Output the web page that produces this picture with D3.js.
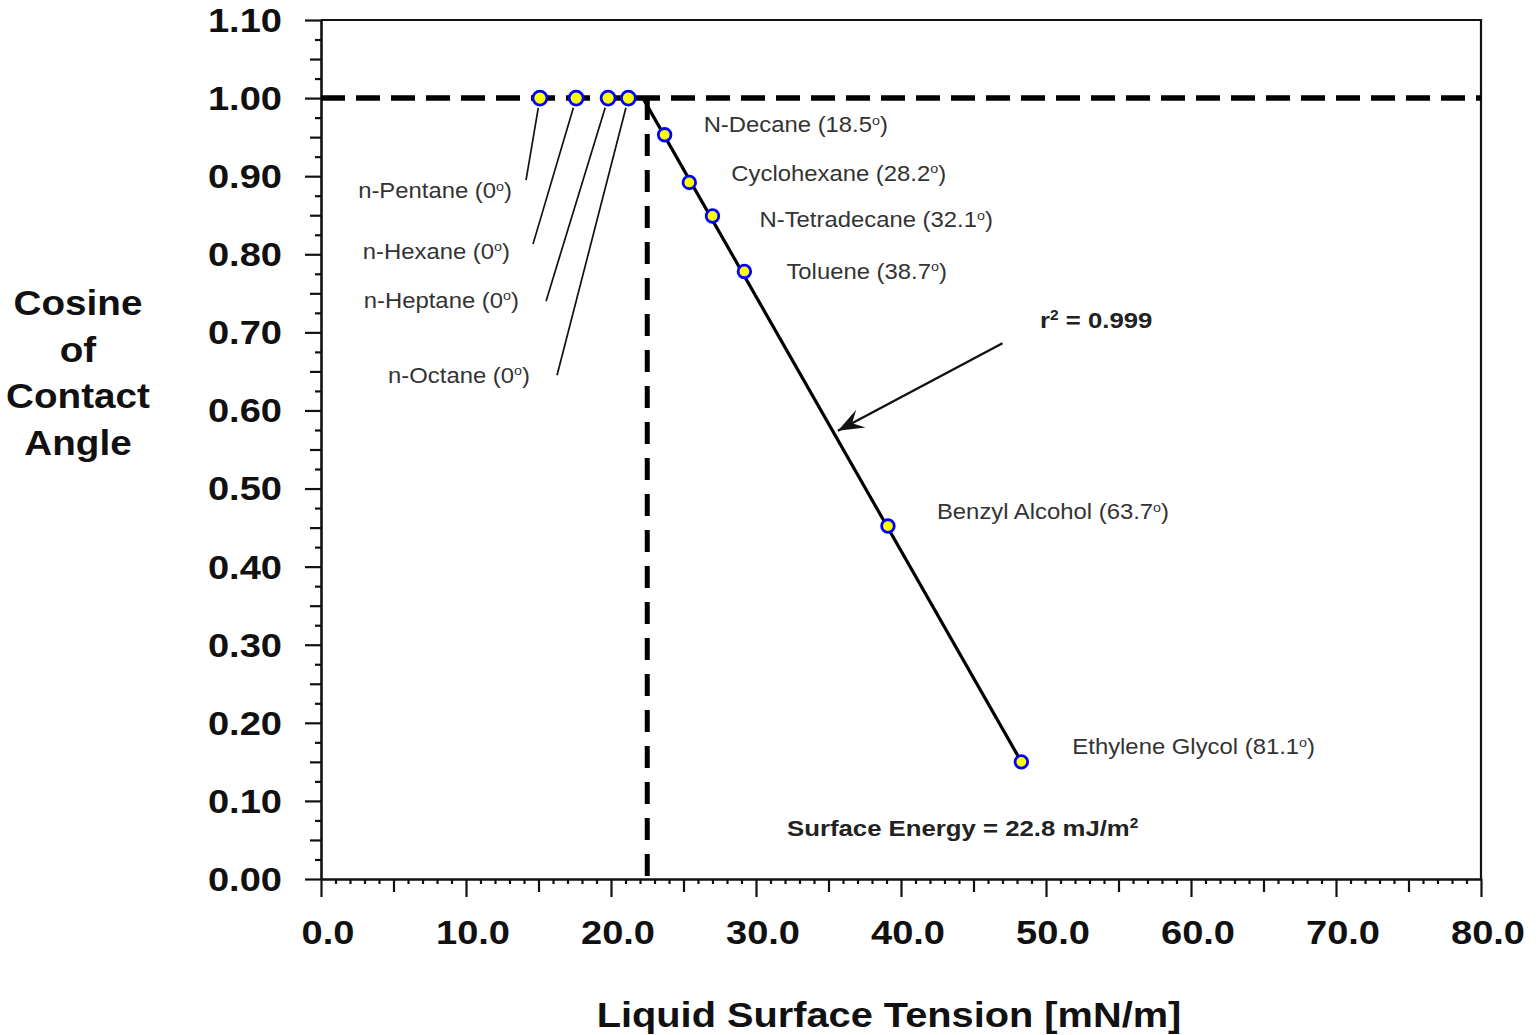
<!DOCTYPE html>
<html>
<head>
<meta charset="utf-8">
<script src="https://cdn.jsdelivr.net/npm/d3@7"></script>
<style>
  body { margin: 0; background: #fff; }
  svg { display: block; font-family: "Liberation Sans", Arial, sans-serif; }
</style>
</head>
<body>
<svg id="chart" width="1540" height="1035"></svg>
<script>
// data
const liquids = ["n-Pentane", "n-Hexane", "n-Heptane", "n-Octane", "N-Decane",
  "Cyclohexane", "N-Tetradecane", "Toluene", "Benzyl Alcohol", "Ethylene Glycol"];
const tension = [15.1, 17.6, 19.8, 21.2, 23.7, 25.4, 27.0, 29.2, 39.1, 48.3];
const cosTheta = [1.00, 1.00, 1.00, 1.00, 0.953, 0.892, 0.849, 0.778, 0.452, 0.150];
const contactAngle = ["0", "0", "0", "0", "18.5", "28.2", "32.1", "38.7", "63.7", "81.1"];

const fitX = [22.2, 48.3];
const fitY = [1.00, 0.150];
const criticalTension = 22.5;
const rSquared = "0.999";
const surfaceEnergy = "22.8";

const xMajor = d3.range(0, 81, 10);
const yMajor = d3.range(0, 12).map(i => i / 10);

// label layout: alkane label anchor (text end) and leader end, in data units
const leftLabels = [
  { lx: 13.17, ly: 0.881, ex: 14.14, ey: 0.895 },
  { lx: 13.03, ly: 0.804, ex: 14.62, ey: 0.813 },
  { lx: 13.65, ly: 0.741, ex: 15.52, ey: 0.740 },
  { lx: 14.41, ly: 0.645, ex: 16.28, ey: 0.645 }
];
// pixel offsets of the other labels from their point
const rightOffsets = [null, null, null, null,
  [39, -10], [42, -9], [47, 4], [42, 0], [49, -14], [51, -15]];

const SX = 1.12; // the reference is stretched horizontally

const svg = d3.select("#chart");
const x = d3.scaleLinear().domain([0, 80]).range([321, 1481]);
const y = d3.scaleLinear().domain([0, 1.1]).range([879, 20]);

function stretchedText(g, px, py, anchor, size, weight, fill) {
  return g.append("g").attr("transform", `translate(${px},${py})`)
    .append("text")
    .attr("transform", `scale(${SX},1)`)
    .attr("text-anchor", anchor)
    .attr("dy", "0.35em")
    .style("font-size", size + "px")
    .style("font-weight", weight)
    .attr("fill", fill);
}
// parts: plain strings, or {sup: "..."} for superscripts
function richText(t, parts) {
  let raised = false;
  parts.forEach(p => {
    if (typeof p === "string") {
      const s = t.append("tspan").text(p);
      if (raised) { s.attr("dy", "0.36em"); raised = false; }
    } else {
      t.append("tspan").attr("dy", "-0.6em").style("font-size", "0.6em").text(p.sup);
      raised = true;
    }
  });
}

// frame top/right
svg.append("path")
  .attr("d", `M${x(0)},${y(1.1)}H${x(80)}V${y(0)}`)
  .attr("fill", "none").attr("stroke", "#111").attr("stroke-width", 2.2);

// minor ticks
const xMed = d3.range(5, 80, 10);
const xSmall = d3.range(1, 80).filter(v => v % 5 !== 0);
const yMed = d3.range(0, 11).map(i => i / 10 + 0.05);
const ySmall = d3.range(0, 22).map(i => i * 0.05 + 0.025).filter(v => v < 1.1);

function tickAxis(axis, vals, size, tr) {
  const g = svg.append("g").attr("transform", tr)
    .call(axis.tickValues(vals).tickSize(size).tickSizeOuter(0).tickFormat(""));
  g.select(".domain").remove();
  g.selectAll("line").attr("stroke", "#111").attr("stroke-width", 2.2);
  return g;
}
tickAxis(d3.axisBottom(x), xSmall, 5, `translate(0,${y(0)})`);
tickAxis(d3.axisBottom(x), xMed, 13, `translate(0,${y(0)})`);
tickAxis(d3.axisLeft(y), ySmall, 6, `translate(${x(0)},0)`);
tickAxis(d3.axisLeft(y), yMed, 11, `translate(${x(0)},0)`);

// major axes
const xAxis = svg.append("g").attr("transform", `translate(0,${y(0)})`)
  .call(d3.axisBottom(x).tickValues(xMajor).tickSize(18).tickSizeOuter(0).tickFormat(""));
const yAxis = svg.append("g").attr("transform", `translate(${x(0)},0)`)
  .call(d3.axisLeft(y).tickValues(yMajor).tickSize(16).tickSizeOuter(0).tickFormat(""));
[xAxis, yAxis].forEach(g => {
  g.select(".domain").attr("stroke", "#111").attr("stroke-width", 2.6);
  g.selectAll("line").attr("stroke", "#111").attr("stroke-width", 2.2);
});

// tick labels
const tickG = svg.append("g");
xMajor.forEach(v => {
  stretchedText(tickG, x(v) + 7, 932, "middle", 34, "bold", "#111").text(d3.format(".1f")(v));
});
yMajor.forEach(v => {
  stretchedText(tickG, 282, y(v), "end", 34, "bold", "#111").text(d3.format(".2f")(v));
});

// axis titles
stretchedText(svg, 889, 1015, "middle", 35.5, "bold", "#111").text("Liquid Surface Tension [mN/m]");
["Cosine", "of", "Contact", "Angle"].forEach((s, i) => {
  stretchedText(svg, 78, 303 + i * 46.7, "middle", 34.5, "bold", "#111").text(s);
});

// dashed reference lines
svg.append("line")
  .attr("x1", x(0)).attr("x2", x(80)).attr("y1", y(1)).attr("y2", y(1))
  .attr("stroke", "#000").attr("stroke-width", 5.5).attr("stroke-dasharray", "24,11");
svg.append("line")
  .attr("x1", x(criticalTension)).attr("x2", x(criticalTension))
  .attr("y1", y(1)).attr("y2", y(0))
  .attr("stroke", "#000").attr("stroke-width", 5).attr("stroke-dasharray", "22,14");

// regression line
svg.append("path")
  .datum(d3.zip(fitX, fitY))
  .attr("d", d3.line().x(d => x(d[0])).y(d => y(d[1])))
  .attr("stroke", "#000").attr("stroke-width", 3.2).attr("fill", "none");

// leader lines for alkanes
leftLabels.forEach((l, i) => {
  const cx = x(tension[i]), cy = y(cosTheta[i]);
  const ex = x(l.ex), ey = y(l.ey);
  const len = Math.hypot(ex - cx, ey - cy);
  svg.append("line")
    .attr("x1", cx + (ex - cx) / len * 10).attr("y1", cy + (ey - cy) / len * 10)
    .attr("x2", ex).attr("y2", ey)
    .attr("stroke", "#111").attr("stroke-width", 1.7);
});

// points
svg.append("g").selectAll("circle")
  .data(d3.range(tension.length))
  .join("circle")
  .attr("cx", i => x(tension[i]))
  .attr("cy", i => y(cosTheta[i]))
  .attr("r", i => i < 4 ? 7 : 6.3)
  .attr("fill", "#ffff00")
  .attr("stroke", "#0000ff")
  .attr("stroke-width", 2.8);

// point labels
const lab = svg.append("g");
liquids.forEach((name, i) => {
  let t;
  if (i < 4) {
    t = stretchedText(lab, x(leftLabels[i].lx), y(leftLabels[i].ly), "end", 21.3, "normal", "#333");
  } else {
    const o = rightOffsets[i];
    t = stretchedText(lab, x(tension[i]) + o[0], y(cosTheta[i]) + o[1], "start", 21.3, "normal", "#333");
  }
  richText(t, [`${name} (${contactAngle[i]}`, { sup: "o" }, ")"]);
});

// r^2 annotation with arrow
svg.append("defs").append("marker")
  .attr("id", "arrow").attr("viewBox", "-26 -11 28 22")
  .attr("refX", 0).attr("refY", 0)
  .attr("markerWidth", 28).attr("markerHeight", 22)
  .attr("markerUnits", "userSpaceOnUse")
  .attr("orient", "auto")
  .append("path")
  .attr("d", "M0,0 L-26,-10 L-16,0 L-26,10 Z")
  .attr("fill", "#111");
svg.append("line")
  .attr("x1", x(47.0)).attr("y1", y(0.686))
  .attr("x2", x(35.65)).attr("y2", y(0.574))
  .attr("stroke", "#111").attr("stroke-width", 2.4)
  .attr("marker-end", "url(#arrow)");
const r2 = stretchedText(svg, 1040, 320, "start", 23, "bold", "#222");
richText(r2, ["r", { sup: "2" }, ` = ${rSquared}`]);

const se = stretchedText(svg, 787, 828, "start", 23, "bold", "#222");
richText(se, [`Surface Energy = ${surfaceEnergy} mJ/m`, { sup: "2" }]);
</script>
</body>
</html>
